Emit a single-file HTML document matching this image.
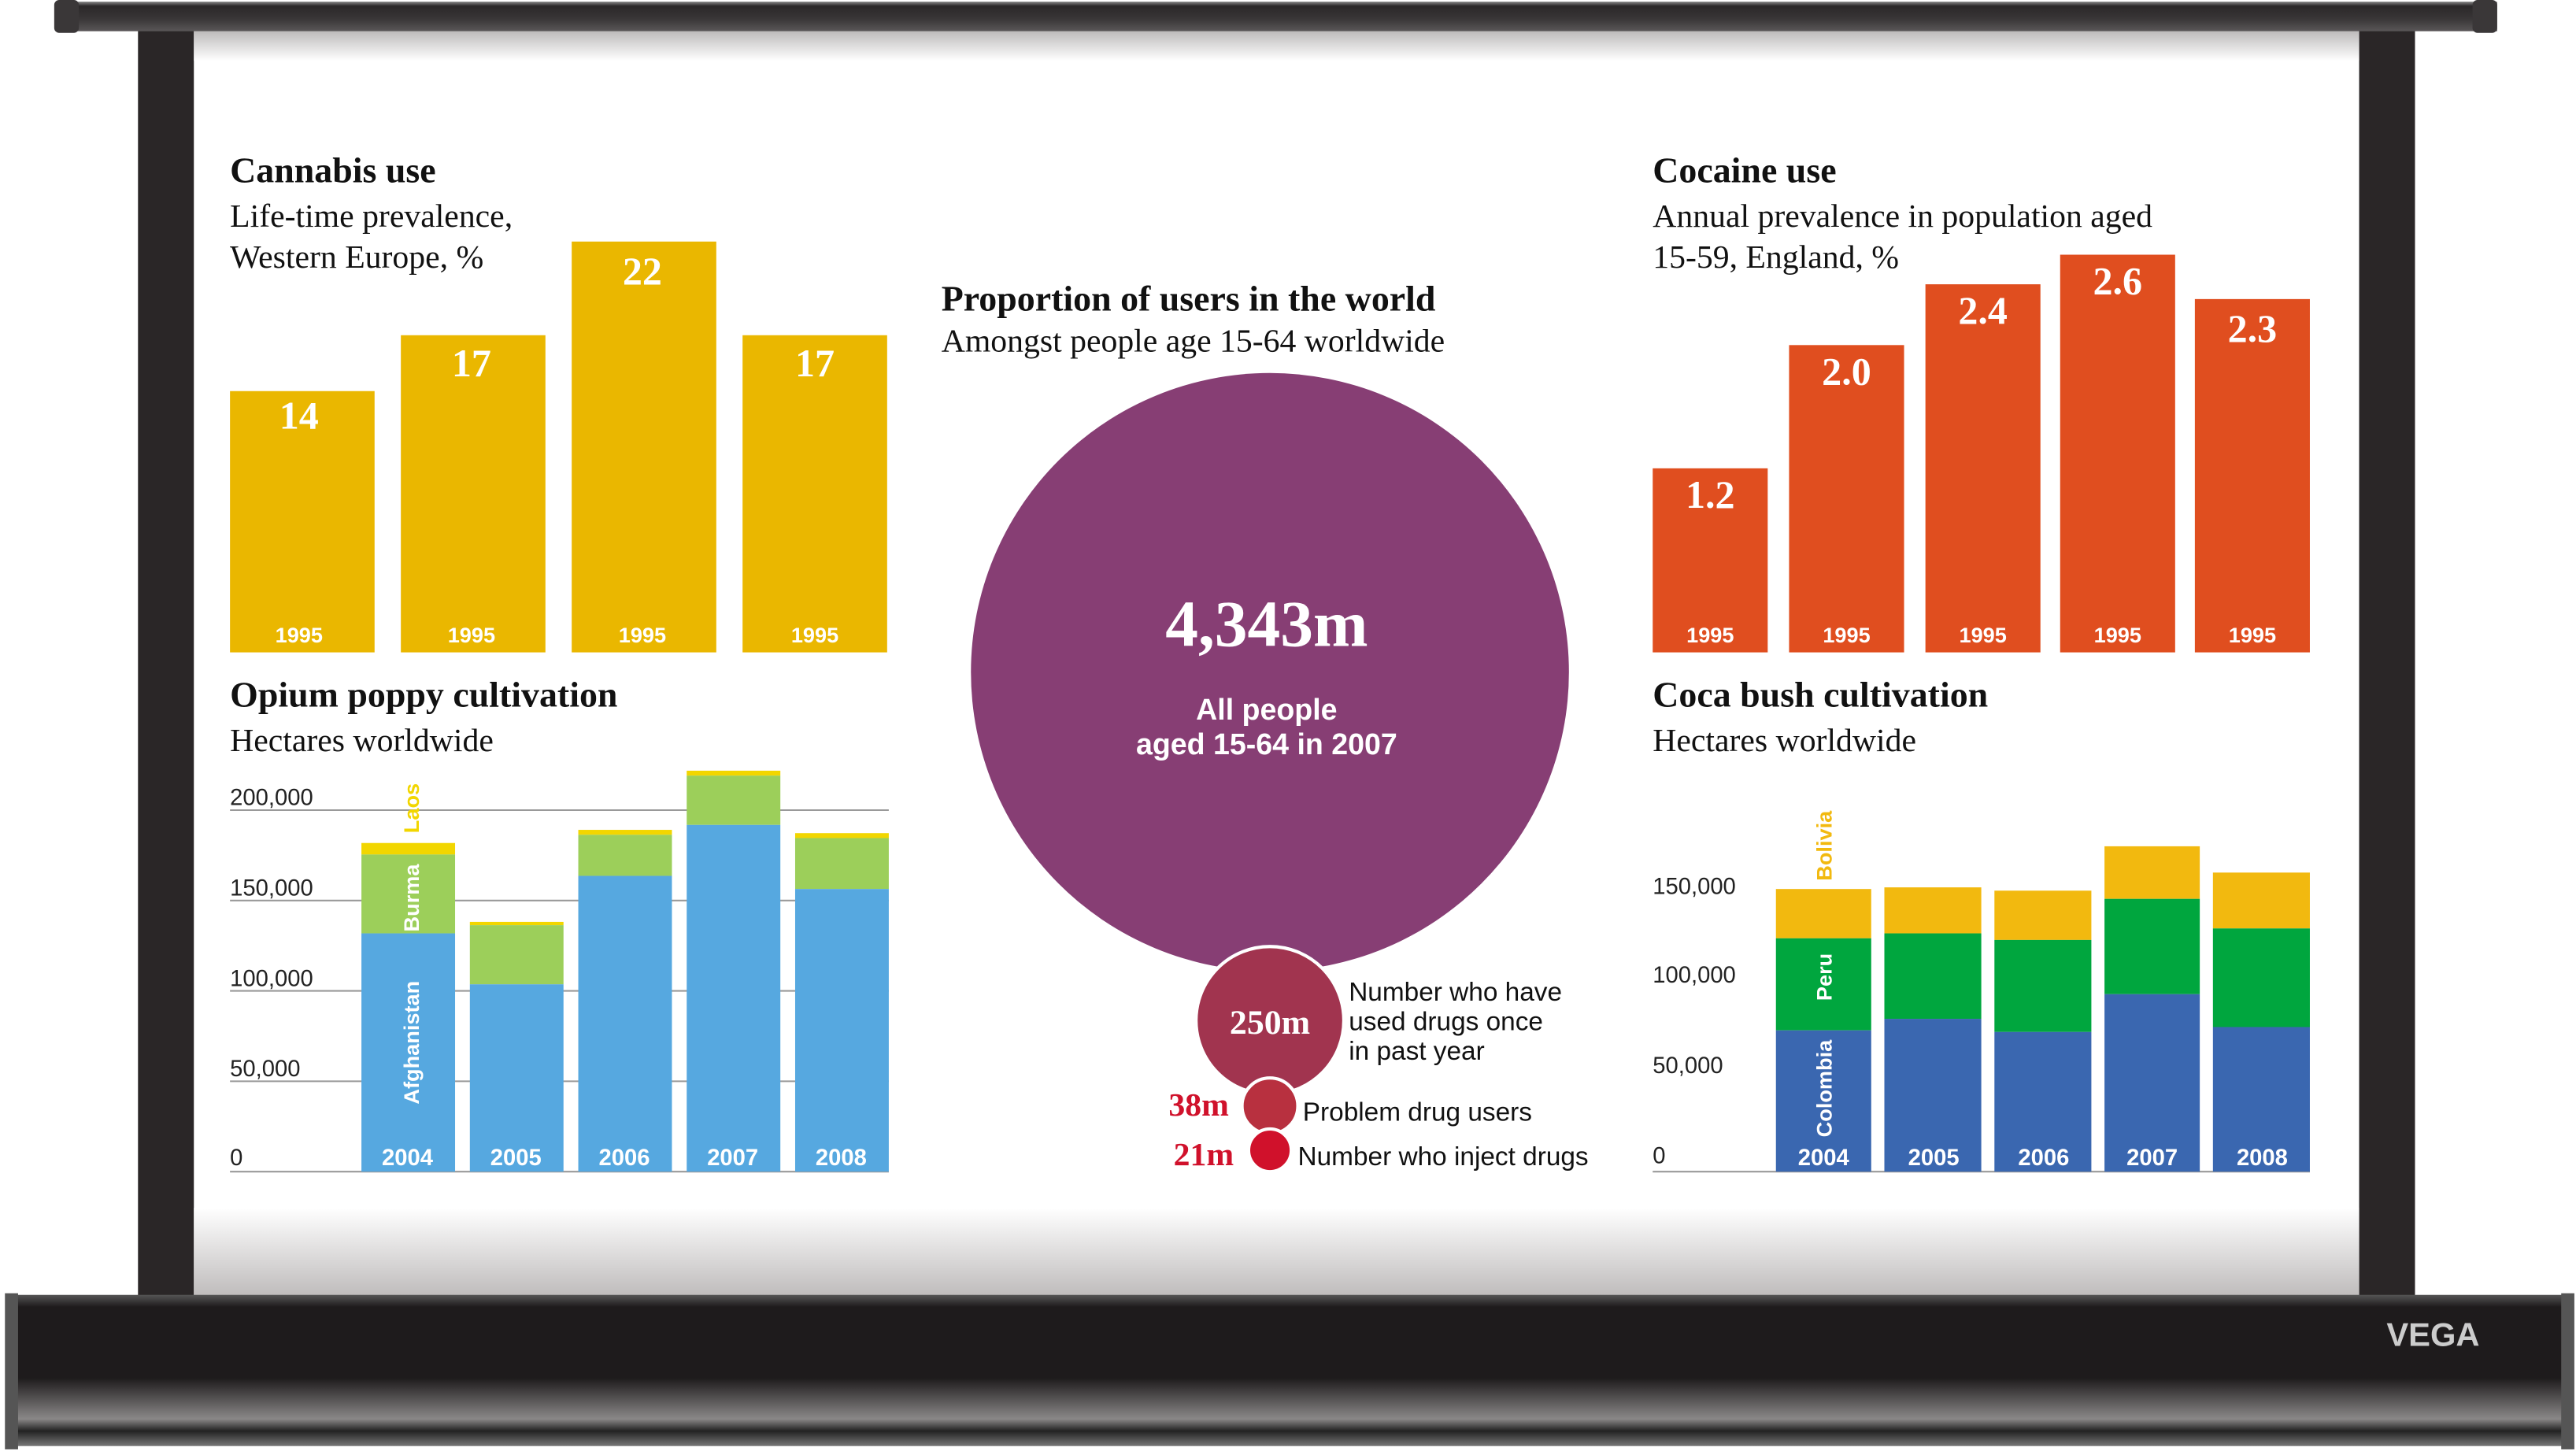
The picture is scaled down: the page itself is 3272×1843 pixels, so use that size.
<!DOCTYPE html>
<html><head><meta charset="utf-8"><style>
html,body{margin:0;padding:0;background:#fff}
svg{display:block}
.t{font-family:"Liberation Serif",serif;font-weight:bold;fill:#111}
.s{font-family:"Liberation Serif",serif;fill:#111}
.n{font-family:"Liberation Sans",sans-serif;font-weight:bold;fill:#fff}
.a{font-family:"Liberation Sans",sans-serif;fill:#222}
</style></head><body>
<svg width="3272" height="1843" viewBox="0 0 1568 883" preserveAspectRatio="none" xmlns="http://www.w3.org/2000/svg">
<defs>
<linearGradient id="top" x1="0" y1="0" x2="0" y2="1"><stop offset="0" stop-color="#888"/><stop offset="0.15" stop-color="#2a2728"/><stop offset="0.6" stop-color="#3a3738"/><stop offset="1" stop-color="#5a5758"/></linearGradient>
<linearGradient id="scrTop" x1="0" y1="0" x2="0" y2="1"><stop offset="0" stop-color="#bdbbbb"/><stop offset="1" stop-color="#fff"/></linearGradient>
<linearGradient id="scrBot" x1="0" y1="0" x2="0" y2="1"><stop offset="0" stop-color="#fff"/><stop offset="1" stop-color="#bcb9b9"/></linearGradient>
<linearGradient id="bot" x1="0" y1="0" x2="0" y2="1"><stop offset="0" stop-color="#555"/><stop offset="0.08" stop-color="#1e1b1c"/><stop offset="0.55" stop-color="#1e1b1c"/><stop offset="0.82" stop-color="#8a8888"/><stop offset="0.9" stop-color="#222"/><stop offset="1" stop-color="#777"/></linearGradient>
</defs>
<rect x="0" y="0" width="1568" height="883" fill="#fff"/>
<!-- screen -->
<rect x="84" y="18" width="34" height="775" fill="#2a2627"/>
<rect x="1436" y="18" width="34" height="775" fill="#2a2627"/>
<rect x="118" y="19" width="1318" height="18" fill="url(#scrTop)"/>
<rect x="118" y="735" width="1318" height="56" fill="url(#scrBot)"/>
<!-- top bar -->
<rect x="36" y="1" width="1484" height="18" fill="url(#top)"/>
<rect x="33" y="0" width="15" height="20" rx="3" fill="#3a3738"/>
<rect x="1505" y="0" width="15" height="20" rx="3" fill="#3a3738"/>
<!-- bottom bar -->
<rect x="8" y="788" width="1552" height="92" fill="url(#bot)"/>
<rect x="3" y="787" width="8" height="95" fill="#555"/>
<rect x="1559" y="787" width="8" height="95" fill="#555"/>
<text x="1481" y="819" text-anchor="middle" font-family="Liberation Sans,sans-serif" font-weight="bold" font-size="20" fill="#ccc">VEGA</text>

<!-- Cannabis -->
<text class="t" x="140" y="111" font-size="22">Cannabis use</text>
<text class="s" x="140" y="138" font-size="20">Life-time prevalence,</text>
<text class="s" x="140" y="163" font-size="20">Western Europe, %</text>
<g fill="#eab700">
<rect x="140" y="238" width="88" height="159"/><rect x="244" y="204" width="88" height="193"/>
<rect x="348" y="147" width="88" height="250"/><rect x="452" y="204" width="88" height="193"/></g>
<g class="t" style="fill:#fff" font-size="24" text-anchor="middle">
<text x="182" y="261">14</text><text x="287" y="229">17</text><text x="391" y="173">22</text><text x="496" y="229">17</text></g>
<g class="n" font-size="13" text-anchor="middle">
<text x="182" y="391">1995</text><text x="287" y="391">1995</text><text x="391" y="391">1995</text><text x="496" y="391">1995</text></g>

<!-- Cocaine -->
<text class="t" x="1006" y="111" font-size="22">Cocaine use</text>
<text class="s" x="1006" y="138" font-size="20">Annual prevalence in population aged</text>
<text class="s" x="1006" y="163" font-size="20">15-59, England, %</text>
<g fill="#e04e1f">
<rect x="1006" y="285" width="70" height="112"/><rect x="1089" y="210" width="70" height="187"/>
<rect x="1172" y="173" width="70" height="224"/><rect x="1254" y="155" width="70" height="242"/>
<rect x="1336" y="182" width="70" height="215"/></g>
<g class="t" style="fill:#fff" font-size="24" text-anchor="middle">
<text x="1041" y="309">1.2</text><text x="1124" y="234">2.0</text><text x="1207" y="197">2.4</text><text x="1289" y="179">2.6</text><text x="1371" y="208">2.3</text></g>
<g class="n" font-size="13" text-anchor="middle">
<text x="1041" y="391">1995</text><text x="1124" y="391">1995</text><text x="1207" y="391">1995</text><text x="1289" y="391">1995</text><text x="1371" y="391">1995</text></g>

<!-- Opium -->
<text class="t" x="140" y="430" font-size="22">Opium poppy cultivation</text>
<text class="s" x="140" y="457" font-size="20">Hectares worldwide</text>
<g stroke="#999" stroke-width="1">
<line x1="140" y1="493" x2="541" y2="493"/><line x1="140" y1="548" x2="541" y2="548"/>
<line x1="140" y1="603" x2="541" y2="603"/><line x1="140" y1="658" x2="541" y2="658"/>
<line x1="140" y1="713" x2="541" y2="713"/></g>
<g class="a" font-size="14">
<text x="140" y="490">200,000</text><text x="140" y="545">150,000</text><text x="140" y="600">100,000</text><text x="140" y="655">50,000</text><text x="140" y="709">0</text></g>
<g>
<rect x="220" y="513" width="57" height="7" fill="#f2d600"/><rect x="220" y="520" width="57" height="48" fill="#9ccf5a"/><rect x="220" y="568" width="57" height="145" fill="#56a8e0"/>
<rect x="286" y="561" width="57" height="2" fill="#f2d600"/><rect x="286" y="563" width="57" height="36" fill="#9ccf5a"/><rect x="286" y="599" width="57" height="114" fill="#56a8e0"/>
<rect x="352" y="505" width="57" height="3" fill="#f2d600"/><rect x="352" y="508" width="57" height="25" fill="#9ccf5a"/><rect x="352" y="533" width="57" height="180" fill="#56a8e0"/>
<rect x="418" y="469" width="57" height="3" fill="#f2d600"/><rect x="418" y="472" width="57" height="30" fill="#9ccf5a"/><rect x="418" y="502" width="57" height="211" fill="#56a8e0"/>
<rect x="484" y="507" width="57" height="3" fill="#f2d600"/><rect x="484" y="510" width="57" height="31" fill="#9ccf5a"/><rect x="484" y="541" width="57" height="172" fill="#56a8e0"/>
</g>
<g class="n" font-size="13">
<text transform="translate(255,507) rotate(-90)" style="fill:#f2d600">Laos</text>
<text transform="translate(255,567) rotate(-90)">Burma</text>
<text transform="translate(255,672) rotate(-90)">Afghanistan</text></g>
<g class="n" font-size="14" text-anchor="middle">
<text x="248" y="709">2004</text><text x="314" y="709">2005</text><text x="380" y="709">2006</text><text x="446" y="709">2007</text><text x="512" y="709">2008</text></g>

<!-- Coca -->
<text class="t" x="1006" y="430" font-size="22">Coca bush cultivation</text>
<text class="s" x="1006" y="457" font-size="20">Hectares worldwide</text>
<line x1="1006" y1="713" x2="1406" y2="713" stroke="#999"/>
<g class="a" font-size="14">
<text x="1006" y="544">150,000</text><text x="1006" y="598">100,000</text><text x="1006" y="653">50,000</text><text x="1006" y="708">0</text></g>
<g>
<rect x="1081" y="541" width="58" height="30" fill="#f2b90f"/><rect x="1081" y="571" width="58" height="56" fill="#00a63e"/><rect x="1081" y="627" width="58" height="86" fill="#3a67b0"/>
<rect x="1147" y="540" width="59" height="28" fill="#f2b90f"/><rect x="1147" y="568" width="59" height="52" fill="#00a63e"/><rect x="1147" y="620" width="59" height="93" fill="#3a67b0"/>
<rect x="1214" y="542" width="59" height="30" fill="#f2b90f"/><rect x="1214" y="572" width="59" height="56" fill="#00a63e"/><rect x="1214" y="628" width="59" height="85" fill="#3a67b0"/>
<rect x="1281" y="515" width="58" height="32" fill="#f2b90f"/><rect x="1281" y="547" width="58" height="58" fill="#00a63e"/><rect x="1281" y="605" width="58" height="108" fill="#3a67b0"/>
<rect x="1347" y="531" width="59" height="34" fill="#f2b90f"/><rect x="1347" y="565" width="59" height="60" fill="#00a63e"/><rect x="1347" y="625" width="59" height="88" fill="#3a67b0"/>
</g>
<g class="n" font-size="13">
<text transform="translate(1115,536) rotate(-90)" style="fill:#f2b90f">Bolivia</text>
<text transform="translate(1115,609) rotate(-90)">Peru</text>
<text transform="translate(1115,692) rotate(-90)">Colombia</text></g>
<g class="n" font-size="14" text-anchor="middle">
<text x="1110" y="709">2004</text><text x="1177" y="709">2005</text><text x="1244" y="709">2006</text><text x="1310" y="709">2007</text><text x="1377" y="709">2008</text></g>

<!-- Center -->
<text class="t" x="573" y="189" font-size="22">Proportion of users in the world</text>
<text class="s" x="573" y="214" font-size="20">Amongst people age 15-64 worldwide</text>
<circle cx="773" cy="409" r="182" fill="#873e74"/>
<text class="t" style="fill:#fff" x="771" y="393" font-size="40" text-anchor="middle">4,343m</text>
<text class="n" x="771" y="438" font-size="18" text-anchor="middle">All people</text>
<text class="n" x="771" y="459" font-size="18" text-anchor="middle">aged 15-64 in 2007</text>
<circle cx="773" cy="621" r="45" fill="#a1344f" stroke="#fff" stroke-width="2"/>
<text class="t" style="fill:#fff" x="773" y="629" font-size="21" text-anchor="middle">250m</text>
<circle cx="773" cy="673" r="17" fill="#b8303f" stroke="#fff" stroke-width="2"/>
<circle cx="773" cy="700" r="13" fill="#d0112b" stroke="#fff" stroke-width="2"/>
<g class="a" font-size="16" style="fill:#111">
<text x="821" y="609">Number who have</text><text x="821" y="627">used drugs once</text><text x="821" y="645">in past year</text>
<text x="793" y="682">Problem drug users</text><text x="790" y="709">Number who inject drugs</text></g>
<text class="t" style="fill:#d0112b" x="748" y="679" font-size="20" text-anchor="end">38m</text>
<text class="t" style="fill:#d0112b" x="751" y="709" font-size="20" text-anchor="end">21m</text>
</svg>
</body></html>
